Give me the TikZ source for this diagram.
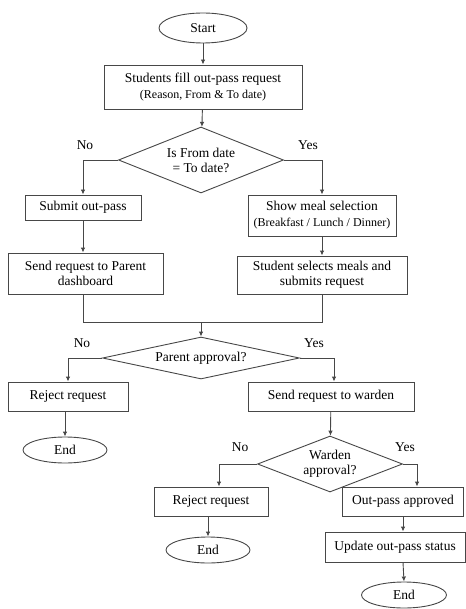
\documentclass[tikz,border=0pt]{standalone}
\usepackage{fontspec}
\setmainfont{Liberation Serif}
\usetikzlibrary{shapes.geometric,arrows.meta,calc}
\begin{document}
\begin{tikzpicture}[x=1pt,y=-1pt,
  line/.style={draw=black!72,line width=0.9pt},
  arr/.style={line,-{Latex[length=5pt,width=4.5pt]}},
  box/.style={line,rectangle,inner sep=0pt,align=center,font=\fontsize{13.5}{15}\selectfont},
  term/.style={line,ellipse,inner sep=0pt,font=\fontsize{13.5}{15}\selectfont},
  decision/.style={line,diamond,inner sep=0pt,align=center,font=\fontsize{13.5}{15}\selectfont},
  lbl/.style={font=\fontsize{13.5}{15}\selectfont,inner sep=0pt},
  note/.style={font=\fontsize{12}{13.5}\selectfont}]
\useasboundingbox (0,0) rectangle (465,609);

% top of the flow
\node[term,minimum width=88pt,minimum height=30pt] (start) at (203,28) {Start};
\node[box,minimum width=198pt,minimum height=44pt] (fill) at (203,87)
  {Students fill out-pass request\\[1pt]{\fontsize{12}{13.5}\selectfont(Reason, From \& To date)}};
\node[decision,aspect=2.5,minimum width=165pt,minimum height=66pt] (samedate) at (201,160)
  {Is From date\\= To date?};

% left branch: different dates
\node[box,minimum width=116pt,minimum height=25pt] (submit) at (83,207.5) {Submit out-pass};
\node[box,minimum width=155pt,minimum height=41pt] (parentdash) at (85.5,273.5)
  {Send request to Parent\\dashboard};

% right branch: same date, meals
\node[box,minimum width=148pt,minimum height=41pt] (meal) at (322,215.5)
  {Show meal selection\\[1pt]{\fontsize{12}{13.5}\selectfont(Breakfast / Lunch / Dinner)}};
\node[box,minimum width=170pt,minimum height=38pt] (selects) at (322,275)
  {Student selects meals and\\submits request};

\coordinate (merge) at (201,322);

% parent decision
\node[decision,aspect=4.7,minimum width=197pt,minimum height=42pt] (parent) at (201,358) {Parent approval?};
\node[box,minimum width=120pt,minimum height=29pt] (reject1) at (68,396.5) {Reject request};
\node[term,minimum width=84pt,minimum height=26pt] (end1) at (65,450) {End};
\node[box,minimum width=166pt,minimum height=29pt] (warden) at (331,396.5) {Send request to warden};

% warden decision
\node[decision,aspect=2.6,minimum width=145pt,minimum height=56pt] (wapp) at (330,464) {Warden\\approval?};
\node[box,minimum width=114pt,minimum height=29pt] (reject2) at (211,501.5) {Reject request};
\node[term,minimum width=84pt,minimum height=26pt] (end2) at (208,550) {End};
\node[box,minimum width=121pt,minimum height=29pt] (approved) at (403,501.5) {Out-pass approved};
\node[box,minimum width=140pt,minimum height=30pt] (update) at (395,547) {Update out-pass status};
\node[term,minimum width=85pt,minimum height=26pt] (end3) at (404,595) {End};

% branch labels
\node[lbl] (no1) at (85,145) {No};
\node[lbl] (yes1) at (308,145) {Yes};
\node[lbl] (no2) at (82,343) {No};
\node[lbl] (yes2) at (314,343) {Yes};
\node[lbl] (no3) at (240,447) {No};
\node[lbl] (yes3) at (405,447) {Yes};

% connectors
\draw[arr] (start) -- (fill);
\draw[arr] (fill) -- (samedate);
\draw[arr] (samedate.west) -| (submit.north);
\draw[arr] (samedate.east) -| (meal.north);
\draw[arr] (submit) -- (submit |- parentdash.north);
\draw[arr] (meal) -- (selects);
\draw[line] (parentdash.south -| submit) -- (submit |- merge) -- (selects.south |- merge) -- (selects.south);
\draw[arr] (merge) -- (parent.north);
\draw[arr] (parent.west) -| (reject1.north);
\draw[arr] (parent.east) -| ($(warden.north)+(3,0)$);
\draw[arr] (reject1.south -| end1) -- (end1.north);
\draw[arr] (warden) -- (wapp);
\draw[arr] (wapp.west) -| ($(reject2.north)+(8,0)$);
\draw[arr] (wapp.east) -| ($(approved.north)+(14,0)$);
\draw[arr] (reject2.south -| end2) -- (end2.north);
\draw[arr] (approved.south) -- (approved.south |- update.north);
\draw[arr] (update.south -| approved) -- (end3.north);
\end{tikzpicture}
\end{document}
